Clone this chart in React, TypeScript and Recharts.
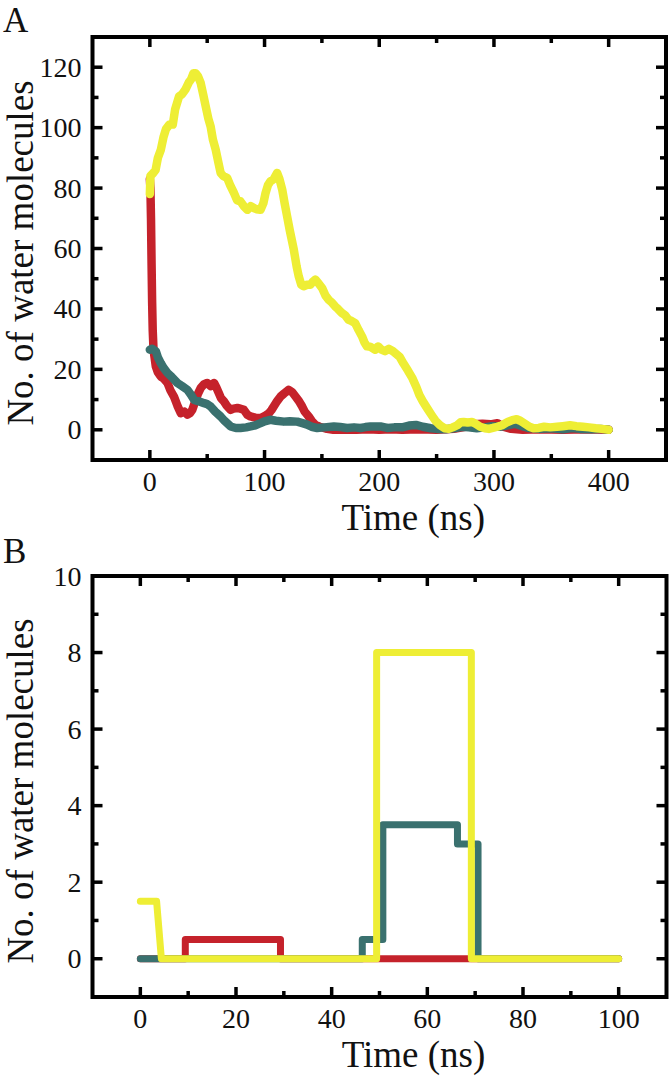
import React from 'react';
import { LineChart, Line, XAxis, YAxis, ReferenceArea, Label } from 'recharts';

// Panel A: number of water molecules vs time (ns), [t, n]
const redA: [number, number][] = [
  [0, 83], [0.5, 80], [1, 70], [1.5, 55], [2, 42], [2.5, 33], [3.2, 26.5], [5.2, 21], [7, 19], [9.6, 17.6],
  [12, 17], [15.4, 15.5], [18, 13], [21, 11], [24, 8], [27, 5.5], [30, 6], [32.8, 5], [35, 5.5], [37, 6.6],
  [40, 9.9], [42, 12], [44.3, 13.8], [47, 15], [50, 15.5], [53, 14.5], [56, 15.5], [58, 14], [60.3, 12],
  [62, 10.5], [64.6, 9.4], [67, 8], [70.4, 6.6], [73, 7], [76.3, 7.2], [79, 7], [82, 6.6], [85, 5], [87.8, 4.4],
  [92, 4], [96.5, 3.9], [100, 4.5], [103.8, 5.5], [106, 6.5], [108, 7.7], [111, 9.5], [114, 11], [117, 12],
  [121, 13.2], [124, 12.5], [127, 11], [130, 9.5], [132.8, 7.7], [135, 6], [138.5, 4.4], [141, 3], [144.3, 1.6],
  [148, 1], [154.5, 0.3], [160, 0], [170, 0], [180, 0], [190, 0.2], [200, 0], [210, 0.2], [220, 0], [235, 0.2],
  [250, 0], [265, 0.3], [275, 1], [282, 1.8], [290, 2], [297, 1.8], [303, 2.2], [308, 1], [315, 0.3], [325, 0],
  [340, 0.2], [360, 0], [380, 0.2], [400, 0],
];

const tealA: [number, number][] = [
  [0, 26.5], [2, 26.8], [5.2, 26], [7, 24], [9.6, 22], [12, 20.5], [15.4, 18.8], [19, 17.5], [24, 15.5],
  [28, 14.5], [32.8, 13.2], [36, 11.5], [38.6, 9.9], [42, 9.5], [47.3, 8.8], [50, 8.5], [53, 7.7], [57, 6],
  [61.7, 4.4], [65, 3], [70.4, 1.1], [75, 0.6], [79, 0.6], [84, 0.8], [87.8, 1.1], [92, 1.5], [96.5, 2.2],
  [100, 2.8], [105, 3.3], [110, 3], [116.9, 2.7], [122, 2.8], [128.5, 2.7], [133, 2.2], [137.2, 1.7], [141, 1],
  [145.9, 0.6], [152, 0.8], [160.4, 1.1], [166, 0.9], [172, 0.6], [178, 0.8], [183.6, 0.6], [188, 0.9],
  [192.3, 1.1], [201, 1.1], [207, 0.6], [213, 0.8], [220, 0.8], [226, 1.4], [232, 1.6], [238, 1], [245, 0.5],
  [250, 0.3], [258, 0.2], [265, 0.5], [272, 1], [278, 0.8], [285, 0.5], [292, 0.8], [298, 1.2], [305, 1],
  [312, 1.5], [318, 2], [324, 1.3], [330, 0.6], [340, 0.3], [350, 0.5], [360, 0.2], [368, 0.6], [375, 0.3],
  [385, 0.2], [393, 0.3], [400, 0],
];

const yellowA: [number, number][] = [
  [0, 78], [0.5, 84], [3, 85], [5, 86], [7, 90], [9.6, 92.7], [12, 97], [14, 99.5], [17, 101], [20, 101],
  [22, 106], [25.5, 110.4], [28, 111], [31, 112.6], [34, 115], [36, 116], [38, 118], [40, 118], [42, 117],
  [44.3, 114.8], [46.5, 111], [48.7, 107], [51, 103], [53, 100.4], [55, 96], [57.4, 92.7], [60, 88], [61.7, 85],
  [64, 84], [67.5, 83.3], [70, 81], [73.3, 78.4], [76, 76], [79, 75.6], [82, 74], [85, 72.8], [88, 74],
  [90.7, 73.4], [93, 73], [96.5, 72.8], [99, 75], [100.9, 78.4], [103, 81], [105, 82.2], [108, 83], [111, 85],
  [113, 83], [115.4, 79.5], [117.5, 75], [119.7, 70.6], [122, 66], [125.5, 59.6], [128, 54], [129.8, 50.8],
  [132, 48], [134, 47.5], [137, 48], [140, 48], [142, 49], [144.3, 49.7], [147, 48.5], [150.2, 46.9],
  [153, 44.5], [156, 43], [159, 42], [161.7, 40.8], [164, 40], [167.6, 38.6], [170, 38], [173.3, 36.4],
  [176, 36], [179, 35.3], [182, 33], [185, 30.9], [187, 29], [189.3, 27.6], [192, 27.5], [196.5, 26.5],
  [199, 27.6], [202, 26.5], [205, 26], [208.4, 26.8], [212, 26], [217.7, 24.2], [221, 22], [225, 19.6],
  [229, 17], [232.5, 14], [235, 11.5], [238, 9.4], [242, 7], [245.6, 4.9], [249, 3], [253, 1.5], [257, 0.5],
  [260.5, 0.3], [264, 0.8], [268, 1.5], [271, 2.5], [273.5, 2.6], [277, 2.4], [281, 2.6], [284, 2], [288, 1],
  [292, 0.5], [295.6, 0.3], [299, 0.6], [303, 1], [307, 1.5], [312, 2.6], [316, 3.2], [319.8, 3.5], [323, 3],
  [327, 2], [331, 1], [334.5, 0.5], [339, 0.6], [343.8, 1], [349, 0.8], [355, 1], [360, 1.2], [366.3, 1.5],
  [372, 1.2], [377.6, 1], [383, 0.8], [388.8, 0.5], [394, 0.3], [400, 0],
];

// Panel B: first 100 ns, step-like counts
const redB: [number, number][] = [[0, 0], [9.4, 0], [9.4, 0.5], [29.3, 0.5], [29.3, 0], [100, 0]];
const tealB: [number, number][] = [
  [0, 0], [46.4, 0], [46.4, 0.5], [50.7, 0.5], [50.7, 3.5], [66.3, 3.5], [66.3, 3], [70.6, 3], [70.6, 0], [100, 0],
];
const yellowB: [number, number][] = [[0, 1.5], [3.4, 1.5], [4.4, 0], [49.4, 0], [49.4, 8], [69.2, 8], [69.2, 0], [100, 0]];

const ticksAX = [0, 50, 100, 150, 200, 250, 300, 350, 400];
const ticksAY = [0, 10, 20, 30, 40, 50, 60, 70, 80, 90, 100, 110, 120];
const ticksBX = [0, 10, 20, 30, 40, 50, 60, 70, 80, 90, 100];
const ticksBY = [0, 1, 2, 3, 4, 5, 6, 7, 8, 9, 10];

const RED = '#c5222b';
const TEAL = '#3a716f';
const YELLOW = '#eeee35';
const FONT = "'Liberation Serif', 'Times New Roman', serif";

const toPts = (arr: [number, number][]) => arr.map(([t, n]) => ({ t, n }));

const isMajor = (v: number, step: number) => Math.abs(v / step - Math.round(v / step)) < 1e-6;

// bottom ticks (inward) + mirrored top ticks, labels only on major
const xTick = (step: number, plotH: number) => (props: any) => {
  const { x, y, payload } = props;
  const v = payload.value;
  const major = isMajor(v, step);
  const len = major ? 10 : 6;
  return (
    <g>
      <line x1={x} x2={x} y1={y} y2={y - len} stroke="#000" strokeWidth={3.5} />
      <line x1={x} x2={x} y1={y - plotH} y2={y - plotH + len} stroke="#000" strokeWidth={3.5} />
      {major && (
        <text x={x} y={y + 31} textAnchor="middle" fontSize={28} fontFamily={FONT} fill="#111">
          {v}
        </text>
      )}
    </g>
  );
};

// left ticks (inward) + mirrored right ticks
const yTick = (step: number, plotW: number) => (props: any) => {
  const { x, y, payload } = props;
  const v = payload.value;
  const major = isMajor(v, step);
  const len = major ? 10 : 6;
  return (
    <g>
      <line x1={x} x2={x + len} y1={y} y2={y} stroke="#000" strokeWidth={3.5} />
      <line x1={x + plotW} x2={x + plotW - len} y1={y} y2={y} stroke="#000" strokeWidth={3.5} />
      {major && (
        <text x={x - 11} y={y} dy="0.34em" textAnchor="end" fontSize={28} fontFamily={FONT} fill="#111">
          {v}
        </text>
      )}
    </g>
  );
};

const xTitle = (p: any) => {
  const vb = p.viewBox;
  return (
    <text x={vb.x + vb.width / 2 + 34} y={vb.y + 70} textAnchor="middle" fontSize={37} fontFamily={FONT} fill="#111">
      Time (ns)
    </text>
  );
};

const yTitle = (p: any) => {
  const vb = p.viewBox;
  return (
    <text
      transform={`translate(33, ${vb.y + vb.height / 2 + 4.5}) rotate(-90)`}
      textAnchor="middle"
      fontSize={37}
      fontFamily={FONT}
      fill="#111"
    >
      No. of water molecules
    </text>
  );
};

interface PanelProps {
  height: number;
  margin: { top: number; right: number; bottom: number; left: number };
  plotW: number;
  plotH: number;
  xDomain: [number, number];
  yDomain: [number, number];
  xTicks: number[];
  yTicks: number[];
  xStep: number;
  yStep: number;
  lineW: number;
  red: [number, number][];
  teal: [number, number][];
  yellow: [number, number][];
}

function Panel(p: PanelProps) {
  const series = [
    { key: 'red', data: p.red, color: RED },
    { key: 'teal', data: p.teal, color: TEAL },
    { key: 'yellow', data: p.yellow, color: YELLOW },
  ];
  // axes need a non-zero size to be drawn; take that 1px out of the margins
  const m = { ...p.margin, left: p.margin.left - 1, bottom: p.margin.bottom - 1 };
  return (
    <LineChart width={671} height={p.height} margin={m}>
      <XAxis
        dataKey="t"
        type="number"
        domain={p.xDomain}
        ticks={p.xTicks}
        interval={0}
        allowDataOverflow
        height={1}
        tickSize={0}
        tickMargin={0}
        axisLine={false}
        tickLine={false}
        tick={xTick(p.xStep, p.plotH)}
      >
        <Label content={xTitle} />
      </XAxis>
      <YAxis
        type="number"
        domain={p.yDomain}
        ticks={p.yTicks}
        interval={0}
        allowDataOverflow
        width={1}
        tickSize={0}
        tickMargin={0}
        axisLine={false}
        tickLine={false}
        tick={yTick(p.yStep, p.plotW)}
      >
        <Label content={yTitle} />
      </YAxis>
      <ReferenceArea
        x1={p.xDomain[0]}
        x2={p.xDomain[1]}
        y1={p.yDomain[0]}
        y2={p.yDomain[1]}
        fill="none"
        fillOpacity={0}
        stroke="#000"
        strokeWidth={4}
        strokeOpacity={1}
        ifOverflow="visible"
      />
      {series.map((s) => (
        <Line
          key={s.key}
          data={toPts(s.data)}
          dataKey="n"
          type="linear"
          stroke={s.color}
          strokeWidth={p.lineW}
          strokeLinecap="round"
          strokeLinejoin="round"
          dot={false}
          activeDot={false}
          isAnimationActive={false}
        />
      ))}
    </LineChart>
  );
}

const letterStyle: React.CSSProperties = {
  position: 'absolute',
  left: 3,
  fontSize: 35,
  lineHeight: 1,
  fontFamily: FONT,
  color: '#111',
};

export default function App() {
  return (
    <div style={{ position: 'absolute', left: 0, top: 0, width: 671, height: 1087, background: '#fff', overflow: 'hidden' }}>
      <div style={{ position: 'absolute', left: 0, top: 0 }}>
        <Panel
          height={540}
          margin={{ top: 37, right: 5, bottom: 80, left: 92.5 }}
          plotW={573.5}
          plotH={423}
          xDomain={[-50, 450]}
          yDomain={[-10, 130]}
          xTicks={ticksAX}
          yTicks={ticksAY}
          xStep={100}
          yStep={20}
          lineW={8.5}
          red={redA}
          teal={tealA}
          yellow={yellowA}
        />
      </div>
      <div style={{ position: 'absolute', left: 0, top: 540 }}>
        <Panel
          height={547}
          margin={{ top: 36, right: 4.5, bottom: 90, left: 92.5 }}
          plotW={574}
          plotH={421}
          xDomain={[-10, 110]}
          yDomain={[-1, 10]}
          xTicks={ticksBX}
          yTicks={ticksBY}
          xStep={20}
          yStep={2}
          lineW={7}
          red={redB}
          teal={tealB}
          yellow={yellowB}
        />
      </div>
      <div style={{ ...letterStyle, top: 2.5 }}>A</div>
      <div style={{ ...letterStyle, top: 533.5 }}>B</div>
    </div>
  );
}
